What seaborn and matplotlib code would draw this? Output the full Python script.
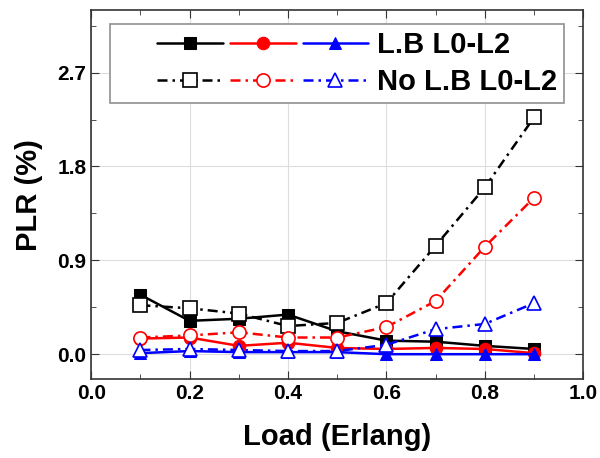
import matplotlib
matplotlib.use('Agg')
import matplotlib.pyplot as plt
from matplotlib.legend_handler import HandlerTuple
from matplotlib.ticker import MultipleLocator
import seaborn as sns

load = [0.1, 0.2, 0.3, 0.4, 0.5, 0.6, 0.7, 0.8, 0.9]

lb_black = [0.57, 0.32, 0.34, 0.38, 0.22, 0.13, 0.12, 0.08, 0.05]
lb_red = [0.15, 0.16, 0.08, 0.11, 0.06, 0.05, 0.06, 0.05, 0.01]
lb_blue = [0.01, 0.03, 0.02, 0.02, 0.02, 0.0, 0.0, 0.0, 0.0]

nolb_black = [0.47, 0.44, 0.39, 0.27, 0.30, 0.49, 1.04, 1.60, 2.27]
nolb_red = [0.16, 0.18, 0.21, 0.16, 0.16, 0.26, 0.51, 1.03, 1.50]
nolb_blue = [0.04, 0.05, 0.04, 0.03, 0.03, 0.09, 0.24, 0.29, 0.49]

labels = ['L.B L0-L2', 'No L.B L0-L2']


class LeadTuple(HandlerTuple):
    # tuple handler with some empty space in front of the handles
    def __init__(self, lead=0.13, **kw):
        super().__init__(**kw)
        self.lead = lead

    def create_artists(self, legend, orig_handle, xdescent, ydescent,
                       width, height, fontsize, trans):
        shift = self.lead * width
        return super().create_artists(legend, orig_handle, xdescent - shift, ydescent,
                                      width - shift, height, fontsize, trans)


sns.set_style('ticks')
plt.rcParams['font.family'] = ['Liberation Sans', 'DejaVu Sans']
plt.rcParams['font.weight'] = 'bold'
plt.rcParams['text.color'] = 'black'
plt.rcParams['axes.labelcolor'] = 'black'
plt.rcParams['xtick.labelcolor'] = 'black'
plt.rcParams['ytick.labelcolor'] = 'black'

fig, ax = plt.subplots(figsize=(6, 4.58), dpi=100)

dashdot = (0, (4, 2, 1, 2))
solid = []
dashed = []
for vals, col, mk in [(lb_black, 'black', 's'), (lb_red, 'red', 'o'), (lb_blue, 'blue', '^')]:
    sns.lineplot(x=load, y=vals, ax=ax, color=col, marker=mk, markersize=9,
                 markeredgecolor=col, markerfacecolor=col, linewidth=1.8, legend=False)
    solid.append(ax.lines[-1])
for vals, col, mk in [(nolb_black, 'black', 's'), (nolb_red, 'red', 'o'), (nolb_blue, 'blue', '^')]:
    sns.lineplot(x=load, y=vals, ax=ax, color=col, marker=mk, markersize=9.5,
                 markeredgecolor=col, markerfacecolor='white', markeredgewidth=1.2,
                 linewidth=1.8, linestyle=dashdot, legend=False)
    dashed.append(ax.lines[-1])

ax.set_xlim(0, 1.0)
ax.set_ylim(-0.24, 3.3)
ax.xaxis.set_major_locator(MultipleLocator(0.2))
ax.xaxis.set_minor_locator(MultipleLocator(0.1))
ax.yaxis.set_major_locator(MultipleLocator(0.9))
ax.yaxis.set_minor_locator(MultipleLocator(0.45))
ax.tick_params(which='both', direction='in', top=True, right=True, labelsize=15,
               color='#333333')
ax.tick_params(which='major', length=6)
ax.tick_params(which='minor', length=3.5)
ax.grid(True, which='major', color='#dddddd', linewidth=0.8)
for s in ax.spines.values():
    s.set_linewidth(1.2)
    s.set_color('#333333')

ax.set_xlabel('Load (Erlang)', fontsize=21, fontweight='bold', labelpad=14)
ax.set_ylabel('PLR (%)', fontsize=21, fontweight='bold', labelpad=10)

ax.legend([tuple(solid), tuple(dashed)], labels,
          handler_map={tuple: LeadTuple(lead=0.16, ndivide=None, pad=0.24)},
          handlelength=8.6, loc='upper center', bbox_to_anchor=(0.5, 0.962),
          borderaxespad=0, prop={'size': 21, 'weight': 'bold'}, fancybox=False,
          edgecolor='#999999', framealpha=1, borderpad=0.25, labelspacing=0.3,
          handletextpad=0.3)
ax.get_legend().get_frame().set_linewidth(1.3)

fig.subplots_adjust(left=0.152, right=0.972, top=0.978, bottom=0.172)
fig.savefig('out.png', dpi=100)
